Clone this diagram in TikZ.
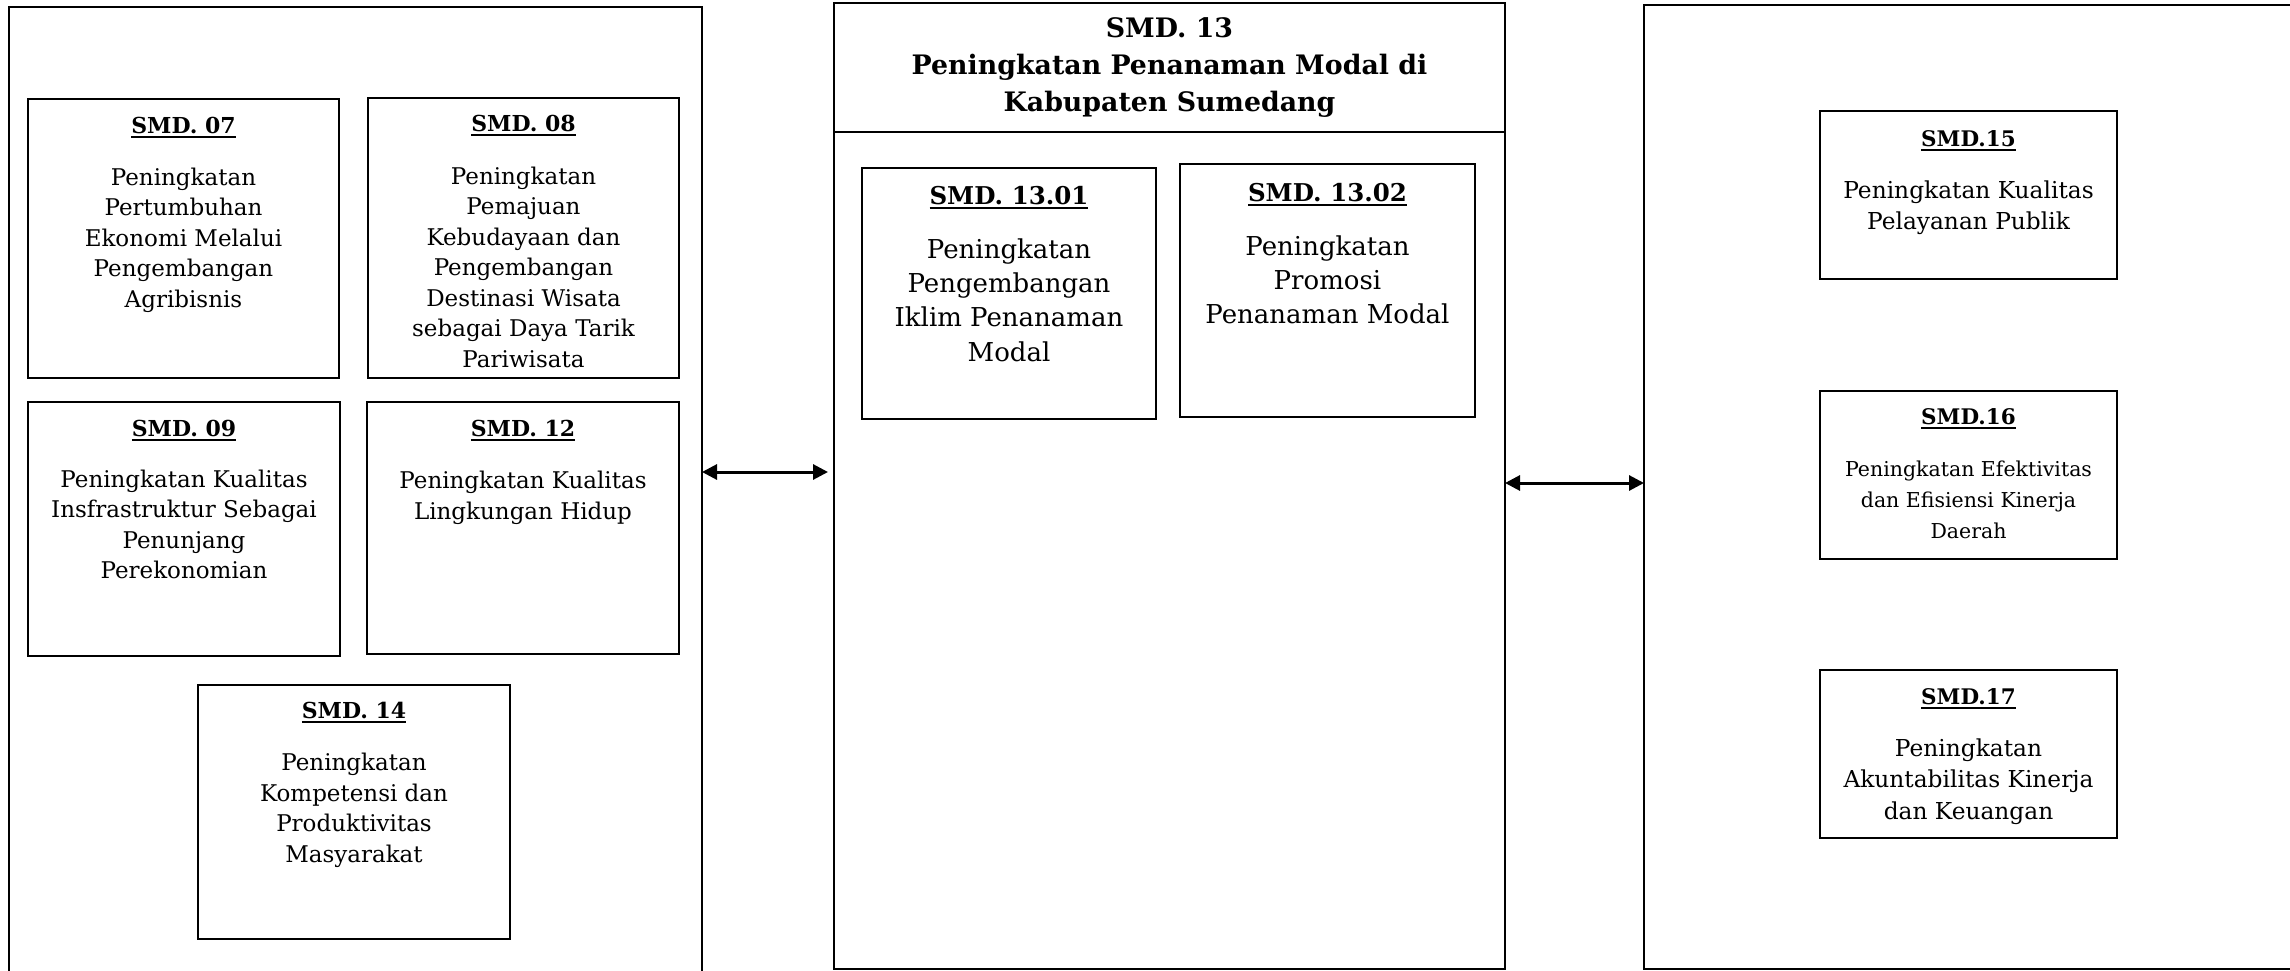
\documentclass[tikz,border=0pt]{standalone}
\usepackage{fontspec}
\setmainfont{DejaVu Serif}
\usetikzlibrary{arrows.meta,calc}

% bold heading with a heavy underline
\newcommand{\smdhead}[1]{\leavevmode\vtop{\hbox{\bfseries #1}\kern2.6pt\hrule height1.8pt}}

\begin{document}
\begin{tikzpicture}[x=1pt,y=-1pt,
  panel/.style={line width=2pt, inner sep=0pt, outer sep=0pt},
  goal/.style={draw, line width=2.3pt, inner sep=0pt, outer sep=0pt},
  boxsize/.style 2 args={minimum width=#1pt, minimum height=#2pt},
  ltext/.style={anchor=north, inner sep=0pt, align=center, font=\fontsize{23}{30.5}\selectfont},
  mtext/.style={anchor=north, inner sep=0pt, align=center, font=\fontsize{26}{34.3}\selectfont},
  rtext/.style={anchor=north, inner sep=0pt, align=center, font=\fontsize{23.3}{31.5}\selectfont},
  stext/.style={anchor=north, inner sep=0pt, align=center, font=\fontsize{20.5}{31}\selectfont},
  link/.style={line width=3pt, {Triangle[length=15pt,width=15pt]}-{Triangle[length=15pt,width=15pt]}},
]
\useasboundingbox (0,0) rectangle (2290,971);
\clip (0,0) rectangle (2290,971);
\fill[white] (0,0) rectangle (2290,971);

% ---- three panels ----
\node[panel, boxsize={693}{980}] (Lpanel) at (355.5,497) {};
\draw[line width=2pt] (Lpanel.south west) -- (Lpanel.north west) -- (Lpanel.north east) -- (Lpanel.south east);
\node[panel, draw, boxsize={671}{966}] (Mpanel) at (1169.5,486) {};
\draw[line width=2pt] (Mpanel.west |- 0,132) -- (Mpanel.east |- 0,132);
\node[panel, draw, boxsize={676}{964}] (Rpanel) at (1982,487) {};

% ---- left panel goals ----
\node[goal, boxsize={311}{279}] (b07) at (183.5,238.5) {};
\node[goal, boxsize={311}{280}] (b08) at (523.5,238) {};
\node[goal, boxsize={312}{254}] (b09) at (184,529) {};
\node[goal, boxsize={312}{252}] (b12) at (523,528) {};
\node[goal, boxsize={312}{254}] (b14) at (354,812) {};

\node[ltext] (t07) at ([yshift=-17.5pt]b07.north)
  {{\fontsize{22}{30.5}\selectfont\smdhead{SMD. 07}}\\[21.5pt]
   Peningkatan\\ Pertumbuhan\\ Ekonomi Melalui\\ Pengembangan\\ Agribisnis};
\node[ltext] (t08) at ([yshift=-17pt]b08.north)
  {{\fontsize{22}{30.5}\selectfont\smdhead{SMD. 08}}\\[22pt]
   Peningkatan\\ Pemajuan\\ Kebudayaan dan\\ Pengembangan\\ Destinasi Wisata\\ sebagai Daya Tarik\\ Pariwisata};
\node[ltext] (t09) at ([yshift=-17.5pt]b09.north)
  {{\fontsize{22}{30.5}\selectfont\smdhead{SMD. 09}}\\[20.5pt]
   Peningkatan Kualitas\\ Insfrastruktur Sebagai\\ Penunjang\\ Perekonomian};
\node[ltext] (t12) at ([yshift=-17.5pt]b12.north)
  {{\fontsize{22}{30.5}\selectfont\smdhead{SMD. 12}}\\[22pt]
   Peningkatan Kualitas\\ Lingkungan Hidup};
\node[ltext] (t14) at ([yshift=-17pt]b14.north)
  {{\fontsize{22}{30.5}\selectfont\smdhead{SMD. 14}}\\[21.5pt]
   Peningkatan\\ Kompetensi dan\\ Produktivitas\\ Masyarakat};

% ---- middle panel ----
\node[anchor=north, inner sep=0pt, align=center,
      font=\fontsize{26.8}{37}\selectfont\bfseries] (mtitle) at ([yshift=-14pt]Mpanel.north)
  {SMD. 13\\ Peningkatan Penanaman Modal di\\ Kabupaten Sumedang};

\node[goal, boxsize={294}{251}] (b1301) at (1009,293.5) {};
\node[goal, boxsize={295}{253}] (b1302) at (1327.5,290.5) {};
\node[mtext] (t1301) at ([yshift=-18pt]b1301.north)
  {{\fontsize{24.5}{34.3}\selectfont\smdhead{SMD. 13.01}}\\[19.5pt]
   Peningkatan\\ Pengembangan\\ Iklim Penanaman\\ Modal};
\node[mtext] (t1302) at ([yshift=-19pt]b1302.north)
  {{\fontsize{24.5}{34.3}\selectfont\smdhead{SMD. 13.02}}\\[19.5pt]
   Peningkatan\\ Promosi\\ Penanaman Modal};

% ---- right panel goals ----
\node[goal, boxsize={297}{168}] (b15) at (1968.5,195) {};
\node[goal, boxsize={297}{168}] (b16) at (1968.5,475) {};
\node[goal, boxsize={297}{168}] (b17) at (1968.5,754) {};
\node[rtext] (t15) at ([yshift=-19pt]b15.north)
  {{\fontsize{21.5}{31.5}\selectfont\smdhead{SMD.15}}\\[20.5pt]
   Peningkatan Kualitas\\ Pelayanan Publik};
\node[stext] (t16) at ([yshift=-17pt]b16.north)
  {{\fontsize{21.5}{31}\selectfont\smdhead{SMD.16}}\\[21pt]
   Peningkatan Efektivitas\\ dan Efisiensi Kinerja\\ Daerah};
\node[rtext] (t17) at ([yshift=-18pt]b17.north)
  {{\fontsize{21.5}{30.5}\selectfont\smdhead{SMD.17}}\\[20.5pt]
   Peningkatan\\ Akuntabilitas Kinerja\\ dan Keuangan};

% ---- links between panels ----
\coordinate (leftend) at (Lpanel.east |- 0,472);
\coordinate (midend) at ($(Mpanel.west |- 0,472)+(-6,0)$);
\draw[link] (leftend) -- (midend);
\draw[link] (Mpanel.east |- 0,483) -- (Rpanel.west |- 0,483);
\end{tikzpicture}
\end{document}
